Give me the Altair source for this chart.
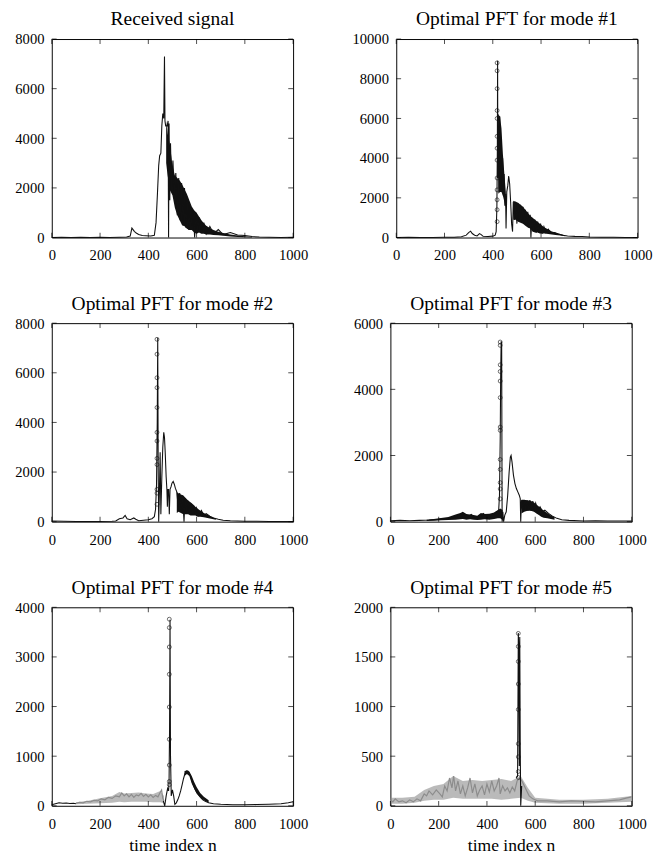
import altair as alt
import pandas as pd

# ---------------- data ----------------
X_TICKS = [0, 200, 400, 600, 800, 1000]

TITLES = ["Received signal", "Optimal PFT for mode #1", "Optimal PFT for mode #2",
          "Optimal PFT for mode #3", "Optimal PFT for mode #4", "Optimal PFT for mode #5"]
Y_MAX = [8000, 10000, 8000, 6000, 4000, 2000]
Y_TICKS = [[0, 2000, 4000, 6000, 8000],
           [0, 2000, 4000, 6000, 8000, 10000],
           [0, 2000, 4000, 6000, 8000],
           [0, 2000, 4000, 6000],
           [0, 1000, 2000, 3000, 4000],
           [0, 500, 1000, 1500, 2000]]
X_TITLE = "time index n"

# Received signal
recv_trace = [[(0, 0), (40, 15), (80, 5), (120, 10), (160, 0), (200, 10), (240, 5), (280, 15), (310, 20),
               (325, 60), (332, 380), (336, 330), (342, 250), (350, 180), (360, 120), (375, 80), (390, 70),
               (410, 60), (425, 90), (432, 600), (438, 1800), (443, 2900), (447, 3300), (452, 3400),
               (456, 4500), (460, 5000), (464, 4800), (467, 7300), (469, 4700), (472, 4500), (478, 4500),
               (482, 4700), (484, 0), (486, 4600), (489, 1500), (492, 3800), (496, 2000), (502, 3100),
               (508, 1700), (514, 2600), (520, 900), (526, 2400), (532, 700), (538, 2200), (544, 500),
               (550, 2000), (556, 400), (562, 1600), (568, 300), (574, 1300), (580, 500), (586, 1100),
               (592, 0), (598, 1000), (604, 300), (612, 800), (620, 200), (630, 600), (640, 150), (655, 450),
               (670, 150), (690, 320), (710, 120), (740, 200), (770, 100), (800, 80), (830, 40), (860, 20),
               (900, 10), (950, 5), (1000, 10)]]
recv_band = [[(474, 3000, 4700), (480, 2500, 4200), (490, 1900, 3700), (500, 1700, 2900), (510, 1200, 2500),
              (520, 900, 2400), (530, 700, 2300), (540, 500, 2150), (550, 450, 1950), (560, 350, 1750),
              (570, 300, 1500), (580, 300, 1250), (590, 200, 1100), (600, 150, 1000), (610, 200, 850),
              (620, 150, 700), (630, 150, 580), (640, 120, 480), (655, 120, 380), (670, 100, 300),
              (690, 90, 230), (710, 70, 180), (740, 40, 120), (770, 20, 80), (800, 10, 50), (830, 5, 25)]]
recv_circles = []

# mode #1
m1_trace = [[(0, 0), (50, 10), (100, 0), (150, 5), (200, 15), (240, 10), (270, 40), (290, 120), (300, 250),
             (308, 320), (315, 200), (325, 120), (335, 80), (345, 200), (352, 150), (360, 60), (380, 50),
             (400, 70), (410, 120), (414, 300), (417, 1500), (419, 4500), (420, 8900), (421, 3000),
             (423, 6200), (426, 2500), (429, 6100), (432, 3000), (435, 5000), (438, 2400), (441, 4000),
             (444, 2100), (447, 3200), (450, 1600), (453, 2200), (455, 450), (458, 2300), (462, 2600),
             (466, 3100), (470, 2700), (474, 1800), (478, 700), (482, 300), (485, 1800), (490, 900),
             (495, 1800), (500, 700), (505, 1700), (510, 900), (515, 1650), (520, 800), (525, 1550),
             (530, 700), (535, 1400), (540, 600), (545, 1300), (550, 500), (555, 1150), (558, 0),
             (562, 1000), (568, 300), (574, 900), (580, 250), (586, 800), (592, 250), (598, 700),
             (605, 200), (612, 550), (620, 250), (630, 420), (640, 250), (655, 250), (670, 180),
             (690, 120), (710, 80), (740, 60), (770, 50), (800, 30), (850, 15), (900, 10), (950, 5),
             (1000, 5)]]
m1_band = [[(423, 2200, 6200), (430, 2300, 6100), (436, 2300, 5500), (442, 2100, 4200), (448, 1800, 3200),
            (454, 1500, 2300)],
           [(485, 900, 1850), (495, 900, 1800), (505, 800, 1750), (515, 750, 1650), (525, 700, 1550),
            (535, 600, 1400), (545, 500, 1250), (555, 450, 1100), (565, 300, 1000), (575, 250, 900),
            (585, 250, 800), (595, 200, 700), (605, 200, 600), (615, 200, 500), (630, 180, 400),
            (645, 150, 300), (660, 130, 250), (680, 100, 180), (700, 70, 120)]]
m1_circles = [(418, 8800), (418, 8400), (418, 7500), (418, 6400), (418, 6000), (418, 5100), (418, 4500),
              (418, 3900), (418, 3000), (418, 2400), (418, 1900), (418, 1400), (418, 800)]

# mode #2
m2_trace = [[(0, 30), (50, 20), (100, 10), (150, 5), (200, 10), (250, 20), (265, 30), (280, 120), (295, 150),
             (304, 250), (312, 120), (325, 80), (340, 150), (348, 100), (360, 40), (380, 60), (400, 80),
             (415, 120), (425, 200), (430, 500), (434, 1500), (437, 4000), (439, 7400), (441, 2000),
             (443, 0), (446, 1200), (449, 2800), (452, 300), (456, 1800), (460, 3000), (464, 3600),
             (467, 3400), (470, 2800), (474, 1800), (477, 1300), (479, 600), (481, 1300), (484, 1300),
             (487, 300), (490, 1300), (494, 1400), (498, 1550), (503, 1620), (508, 1500), (512, 1350),
             (518, 1200), (524, 600), (530, 1150), (536, 500), (542, 1050), (548, 0), (552, 950),
             (558, 400), (564, 850), (570, 350), (576, 750), (582, 300), (588, 650), (594, 300),
             (600, 550), (610, 250), (620, 450), (630, 250), (640, 320), (655, 220), (670, 150),
             (690, 100), (710, 60), (740, 40), (800, 20), (850, 15), (900, 10), (950, 10), (1000, 10)]]
m2_band = [[(518, 350, 1200), (525, 400, 1150), (535, 350, 1100), (545, 300, 1050), (555, 300, 950),
            (565, 300, 850), (575, 250, 780), (585, 250, 700), (595, 250, 600), (605, 200, 520),
            (615, 200, 450), (630, 180, 350), (645, 150, 280), (660, 120, 200), (680, 80, 130)]]
m2_circles = [(436, 7350), (436, 6750), (436, 5800), (436, 5400), (436, 4600), (436, 3600), (436, 3250),
              (436, 2550), (436, 2300), (436, 1300), (436, 1150), (436, 700)]

# mode #3
m3_trace = [[(0, 30), (40, 40), (80, 30), (120, 40), (160, 50), (200, 70), (230, 90), (260, 120), (280, 180),
             (300, 250), (310, 200), (320, 150), (335, 220), (350, 120), (370, 150), (385, 250), (395, 180),
             (410, 200), (425, 220), (440, 300), (448, 250), (452, 800), (455, 2500), (457, 4500),
             (459, 5450), (461, 5400), (463, 0), (466, 300), (469, 0), (474, 200), (480, 300), (486, 800),
             (492, 1500), (497, 1950), (500, 2000), (504, 1800), (510, 1400), (516, 1150), (522, 1000),
             (528, 900), (534, 800), (538, 700), (540, 0), (543, 650), (548, 300), (554, 650), (560, 350),
             (566, 650), (572, 350), (578, 650), (584, 400), (590, 620), (596, 380), (602, 560), (610, 350),
             (620, 450), (630, 300), (640, 350), (655, 250), (670, 170), (690, 100), (710, 60), (740, 40),
             (800, 20), (850, 30), (900, 20), (950, 20), (1000, 20)]]
m3_band = [[(150, 20, 60), (180, 30, 80), (210, 40, 110), (240, 50, 140), (270, 60, 220), (290, 70, 260),
            (300, 80, 300), (315, 60, 230), (330, 70, 220), (345, 60, 200), (360, 50, 180), (375, 60, 260),
            (390, 70, 230), (410, 60, 240), (430, 80, 280), (445, 100, 350), (455, 100, 400),
            (465, 50, 350)],
           [(543, 250, 660), (555, 300, 660), (565, 320, 650), (575, 330, 640), (585, 320, 620),
            (595, 300, 580), (605, 250, 520), (615, 200, 460), (625, 150, 400), (635, 120, 340),
            (650, 100, 260), (665, 80, 190), (680, 60, 130)]]
m3_circles = [(455, 5430), (455, 5330), (455, 4740), (455, 4540), (455, 4250), (455, 3750), (455, 2860),
              (455, 2760), (455, 1880), (455, 1580), (455, 1180), (455, 990), (455, 690)]

# mode #4
m4_trace = [[(0, 20), (15, 40), (30, 60), (45, 50), (60, 55), (75, 45), (90, 50), (100, 40)],
            [(462, 100), (468, 0), (474, 200), (480, 350), (484, 300), (486, 500), (488, 1500), (490, 3750),
             (492, 1000), (495, 200), (500, 320), (505, 200), (510, 30), (516, 60), (522, 120), (528, 200),
             (534, 300), (540, 420), (546, 550), (552, 650), (558, 700), (564, 700), (570, 650), (576, 580),
             (582, 480), (588, 400), (594, 330), (600, 280), (608, 220), (616, 170), (626, 120), (636, 90),
             (650, 60), (670, 40), (700, 30), (750, 20), (800, 20), (850, 25), (900, 30), (950, 40),
             (980, 60), (1000, 80)]]
m4_band = [[(550, 600, 700), (560, 640, 710), (570, 600, 690), (580, 450, 600), (590, 350, 480),
            (600, 250, 380), (615, 170, 260), (630, 110, 180), (650, 60, 110)]]
m4_gray = [[(100, 50), (115, 70), (130, 60), (145, 90), (160, 80), (175, 110), (190, 100), (205, 140),
            (220, 120), (235, 170), (250, 150), (265, 200), (280, 180), (290, 260), (300, 200), (310, 240),
            (320, 180), (330, 230), (340, 170), (350, 220), (360, 200), (370, 250), (380, 190), (390, 230),
            (400, 180), (410, 220), (420, 170), (430, 210), (440, 180), (450, 280), (455, 320), (460, 150),
            (465, 100)]]
m4_gray_band = [[(100, 30, 70), (150, 40, 100), (200, 50, 150), (250, 60, 200), (280, 80, 280),
                 (300, 70, 250), (330, 80, 260), (360, 80, 270), (390, 80, 250), (420, 70, 240),
                 (450, 70, 300), (465, 50, 200)]]
m4_circles = [(487, 3760), (487, 3590), (487, 3200), (487, 2650), (487, 1990), (487, 1340), (487, 820),
              (487, 490), (487, 425)]

# mode #5
m5_trace = [[(522, 280), (527, 300), (530, 1740), (532, 1600), (534, 400), (536, 1700), (538, 600),
             (540, 0), (544, 200)]]
m5_band = []
m5_gray = [[(0, 60), (10, 40), (20, 70), (35, 40), (50, 50), (65, 30), (80, 60), (95, 40), (110, 70),
            (125, 50), (140, 120), (150, 100), (160, 150), (175, 110), (190, 160), (205, 120), (215, 90),
            (225, 200), (235, 150), (245, 280), (255, 180), (262, 300), (270, 150), (280, 250), (290, 120),
            (300, 200), (310, 100), (320, 180), (330, 280), (340, 130), (350, 220), (360, 100), (370, 160),
            (380, 200), (390, 110), (400, 220), (410, 140), (420, 250), (430, 150), (440, 200), (450, 280),
            (455, 120), (465, 200), (475, 150), (485, 180), (495, 130), (505, 190), (515, 150), (525, 250),
            (535, 280), (545, 250), (555, 200), (565, 150), (575, 100), (590, 70), (610, 50), (650, 50),
            (700, 40), (750, 50), (800, 45), (850, 40), (900, 50), (950, 60), (980, 80), (1000, 90)]]
m5_gray_band = [[(0, 20, 80), (50, 20, 80), (100, 30, 90), (140, 50, 160), (180, 60, 200), (220, 60, 220),
                 (260, 80, 300), (300, 70, 250), (340, 70, 260), (380, 70, 250), (420, 70, 260),
                 (460, 60, 270), (500, 70, 250), (540, 80, 300), (570, 50, 180), (600, 30, 80),
                 (700, 20, 60), (800, 20, 60), (900, 30, 70), (1000, 40, 100)]]
m5_circles = [(530, 1737), (530, 1605), (530, 1454), (530, 1227), (530, 970), (530, 625), (530, 493),
              (530, 345), (530, 286)]

PANELS = [
    (recv_trace, recv_band, recv_circles, [], []),
    (m1_trace, m1_band, m1_circles, [], []),
    (m2_trace, m2_band, m2_circles, [], []),
    (m3_trace, m3_band, m3_circles, [], []),
    (m4_trace, m4_band, m4_circles, m4_gray, m4_gray_band),
    (m5_trace, m5_band, m5_circles, m5_gray, m5_gray_band),
]

# ---------------- chart ----------------
W, H = 248, 204
FONT = "Liberation Serif"
BLACK = "#111111"
GRAY = "#8c8c8c"


def line_df(segs):
    rows = []
    for i, seg in enumerate(segs):
        for x, y in seg:
            rows.append({"seg": i, "x": x, "y": y})
    return pd.DataFrame(rows)


def band_df(segs):
    rows = []
    for i, seg in enumerate(segs):
        for x, lo, hi in seg:
            rows.append({"seg": i, "x": x, "y": lo, "hi": hi})
    return pd.DataFrame(rows)


def panel(idx, bottom):
    trace, band, circles, gray, gray_band = PANELS[idx]
    xs = alt.Scale(domain=[0, 1000], nice=False, zero=False)
    ys = alt.Scale(domain=[0, Y_MAX[idx]], nice=False)
    xaxis = alt.Axis(values=X_TICKS, format="d", ticks=False, domain=False, grid=False,
                     labelFont=FONT, labelFontSize=15, labelColor="black", labelPadding=11,
                     labelFlush=False, titleFont=FONT, titleFontSize=18, titleFontWeight="normal",
                     titleColor="black", titlePadding=6)
    yaxis = alt.Axis(values=Y_TICKS[idx], format="d", ticks=False, domain=False, grid=False,
                     labelFont=FONT, labelFontSize=15, labelColor="black", labelPadding=8,
                     labelFlush=False, minExtent=39, maxExtent=39)
    xt = X_TITLE if bottom else None
    X = alt.X("x:Q", scale=xs, axis=xaxis, title=xt)
    Y = alt.Y("y:Q", scale=ys, axis=yaxis, title=None)

    layers = []
    if gray_band:
        layers.append(alt.Chart(band_df(gray_band)).mark_area(color=GRAY, opacity=0.6)
                      .encode(x=X, y=Y, y2="hi:Q", detail="seg:N"))
    if gray:
        layers.append(alt.Chart(line_df(gray)).mark_line(color=GRAY, strokeWidth=1.2)
                      .encode(x=X, y=Y, detail="seg:N"))
    if band:
        layers.append(alt.Chart(band_df(band)).mark_area(color=BLACK, opacity=1)
                      .encode(x=X, y=Y, y2="hi:Q", detail="seg:N"))
    if trace:
        layers.append(alt.Chart(line_df(trace)).mark_line(color=BLACK, strokeWidth=1.1)
                      .encode(x=X, y=Y, detail="seg:N"))
    if circles:
        cdf = pd.DataFrame(circles, columns=["x", "y"])
        layers.append(alt.Chart(cdf).mark_point(shape="circle", filled=False, color=BLACK,
                                                size=16, strokeWidth=0.9)
                      .encode(x=X, y=Y))
    # inward tick marks on all four sides
    xtdf = pd.DataFrame({"x": X_TICKS})
    ytdf = pd.DataFrame({"y": Y_TICKS[idx]})
    for yv in (H - 2.5, 2.5):
        layers.append(alt.Chart(xtdf).mark_tick(orient="vertical", size=5, thickness=1, color="black")
                      .encode(x=X, y=alt.value(yv)))
    for xv in (2.5, W - 2.5):
        layers.append(alt.Chart(ytdf).mark_tick(orient="horizontal", size=5, thickness=1, color="black")
                      .encode(y=Y, x=alt.value(xv)))

    return alt.layer(*layers).properties(
        width=W, height=H,
        title=alt.TitleParams(TITLES[idx], font=FONT, fontSize=20, fontWeight="normal",
                              color="black", offset=3),
    )


rows = []
for r in range(3):
    rows.append(alt.hconcat(panel(2 * r, r == 2), panel(2 * r + 1, r == 2), spacing=44))

chart = alt.vconcat(*rows, spacing=30).properties(
    padding={"left": 5, "top": -11, "right": 5, "bottom": 0},
    background="white",
).configure_view(stroke="black", strokeWidth=1)

chart.save("out.html", embed_options={"renderer": "svg", "actions": False})
